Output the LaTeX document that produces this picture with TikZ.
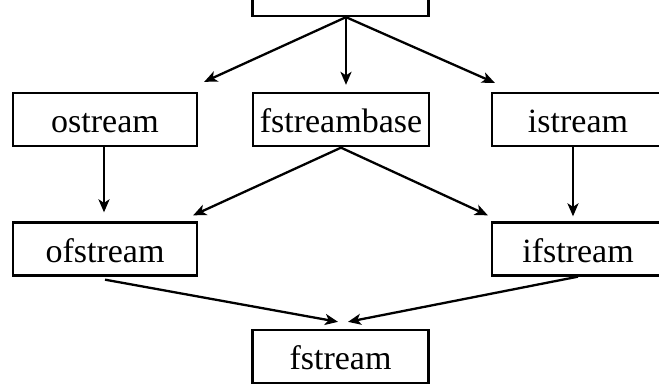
\documentclass[tikz,border=0pt]{standalone}
\usepackage{fontspec}
\setmainfont{Liberation Serif}
\usetikzlibrary{arrows.meta,calc}
\begin{document}
\begin{tikzpicture}[x=1pt,y=1pt,
  box/.style={draw,line width=2.3pt,inner sep=0pt,minimum height=53pt,text height=26pt,text depth=0pt,font=\fontsize{34}{40}\selectfont},
  lbox/.style={box,minimum width=184pt},
  mbox/.style={box,minimum width=176pt},
  rbox/.style={box,minimum width=172pt},
  arr/.style={line width=2.3pt,-{Stealth[length=13pt,width=11pt,inset=3.5pt]}}]
\useasboundingbox (0,0) rectangle (659,-384);
\node[mbox] (ios) at (340.5,10.5) {};
\node[lbox] (ostream) at (105,-119.5) {ostream};
\node[mbox] (fstreambase) at (341,-119.5) {fstreambase};
\node[rbox] (istream) at (578,-119.5) {istream};
\node[lbox] (ofstream) at (105,-249) {ofstream};
\node[rbox] (ifstream) at (578,-249) {ifstream};
\node[mbox] (fstream) at (340.5,-356.5) {fstream};
\coordinate (top) at ([xshift=5.5pt]ios.south);
\coordinate (t1) at ($(ostream.north east)+(6,10)$);
\coordinate (t2) at ($(fstreambase.north)+(5,7)$);
\coordinate (t3) at ($(istream.north west)+(4,9)$);
\draw[arr] (top) -- (t1);
\draw[arr] (top) -- (t2);
\draw[arr] (top) -- (t3);
\coordinate (b1) at ($(ofstream.north east)+(-5,6)$);
\coordinate (b2) at ($(ifstream.north west)+(-3,6)$);
\draw[arr] ([yshift=-0.5pt]fstreambase.south) -- (b1);
\draw[arr] ([yshift=-0.5pt]fstreambase.south) -- (b2);
\draw[arr] ([xshift=-1pt,yshift=2pt]ostream.south) -- ([xshift=-1pt,yshift=9pt]ofstream.north);
\draw[arr] ([xshift=-5pt,yshift=1pt]istream.south) -- ([xshift=-5pt,yshift=5pt]ifstream.north);
\coordinate (f1) at ($(fstream.north)+(-2.5,7)$);
\coordinate (f2) at ($(fstream.north)+(7.5,7)$);
\draw[arr] ([yshift=-3pt]ofstream.south) -- (f1);
\draw[arr] ([yshift=0pt]ifstream.south) -- (f2);
\end{tikzpicture}
\end{document}
